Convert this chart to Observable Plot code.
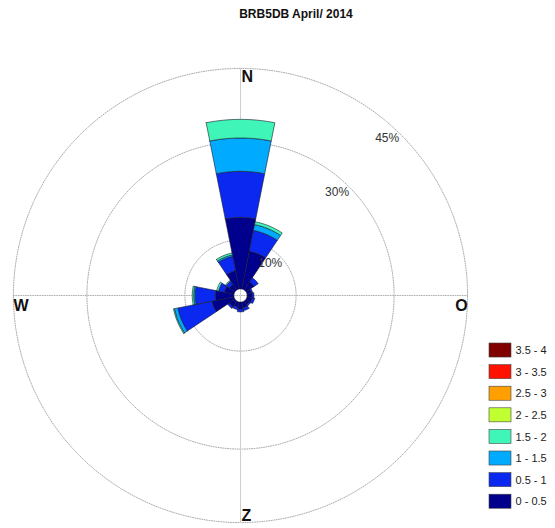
<!DOCTYPE html>
<html><head><meta charset="utf-8">
<script src="https://cdn.jsdelivr.net/npm/d3@7"></script>
<script src="https://cdn.jsdelivr.net/npm/@observablehq/plot@0.6"></script>
<style>
body{margin:0;background:#fff;font-family:"Liberation Sans",Arial,sans-serif;}
#wrap{position:relative;width:555px;height:528px;overflow:hidden;background:#fff;}
#chart,#legend{position:absolute;}
#chart{left:0;top:0;}
#legend{left:480px;top:336px;}
#title{position:absolute;top:7px;left:196px;width:200px;text-align:center;font-weight:bold;font-size:12px;color:#111;white-space:nowrap;}
</style></head><body>
<div id="wrap"><div id="chart"></div><div id="title"></div><div id="legend"></div></div>
<script>
// ---- data ----
const title = "BRB5DB April/ 2014";
const directions = ["N","NNE","NE","ENE","E","ESE","SE","SSE","S","SSW","SW","WSW","W","WNW","NW","NNW"];
const dirAngles = [0,22.5,45,67.5,90,112.5,135,157.5,180,202.5,225,247.5,270,292.5,315,337.5];
const bins = ["0 - 0.5","0.5 - 1","1 - 1.5","1.5 - 2","2 - 2.5","2.5 - 3","3 - 3.5","3.5 - 4"];
const binColors = ["#00008c","#0a28f0","#00aaff","#3ff5b8","#c0ff30","#ff9f00","#ff1200","#800000"];
// frequency (%) per direction, one array per speed bin
const f0_05  = [14.6,7.9,2.0,0.9,1.0,1.1,0.9,1.2,1.4,1.1,1.4,4.6,3.8,2.0,1.4,3.8];
const f05_1  = [9.4,4.3,1.0,0.3,0.4,0.5,0.3,0.6,0.6,0.5,0.4,7.1,4.1,1.2,0.8,3.0];
const f1_15  = [6.8,1.2,0.0,0.0,0.0,0.0,0.0,0.0,0.0,0.0,0.0,0.7,0.3,0.0,0.0,0.3];
const f15_2  = [3.8,0.6,0.0,0.0,0.0,0.0,0.0,0.0,0.0,0.0,0.0,0.2,0.3,0.4,0.2,0.4];
const f2_25  = [0,0,0,0,0,0,0,0,0,0,0,0,0,0,0,0];
const f25_3  = [0,0,0,0,0,0,0,0,0,0,0,0,0,0,0,0];
const f3_35  = [0,0,0,0,0,0,0,0,0,0,0,0,0,0,0,0];
const f35_4  = [0,0,0,0,0,0,0,0,0,0,0,0,0,0,0,0];
const series = [f0_05,f05_1,f1_15,f15_2,f2_25,f25_3,f3_35,f35_4];
const ringValues = [10,30,45];
const ringLabels = ["10%","30%","45%"];
const compass = ["N","O","Z","W"];

// ---- geometry ----
const W = 555, H = 528, cx = 240, cy = 295, ppu = 4.9, holePx = 6.6;
const hole = holePx / ppu;            // inner offset in % units
const R = v => hole + v;              // radial position of a frequency value
const rad = a => a * Math.PI / 180;
const pt = (r, a) => [r * Math.sin(rad(a)), r * Math.cos(rad(a))];
const half = 360 / directions.length / 2;
const maxR = R(d3.max(ringValues));

// wedges
const wedgeRows = [];
directions.forEach((d, i) => {
  let cum = 0;
  series.forEach((s, b) => {
    const v = s[i];
    if (v <= 0) return;
    const r0 = R(cum), r1 = R(cum + v);
    const id = d + "_" + b;
    const n = 16;
    const pts = [];
    for (let k = 0; k <= n; k++) pts.push(pt(r1, dirAngles[i] - half + (2 * half) * k / n));
    for (let k = n; k >= 0; k--) pts.push(pt(r0, dirAngles[i] - half + (2 * half) * k / n));
    pts.push(pts[0]);
    pts.forEach(([x, y]) => wedgeRows.push({id, bin: bins[b], x, y}));
    cum += v;
  });
});

// rings
const ringRows = [];
ringValues.forEach(v => {
  for (let k = 0; k <= 360; k += 2) { const [x, y] = pt(R(v), k); ringRows.push({ring: v, x, y}); }
});
const ringText = ringValues.map((v, i) => { const [x, y] = pt(R(v) - 12 / ppu, 43); return {x, y, t: ringLabels[i]}; });

const xDom = [(0 - cx) / ppu, (W - cx) / ppu];
const yDom = [(cy - H) / ppu, cy / ppu];

const chart = Plot.plot({
  width: W, height: H, margin: 0,
  x: {domain: xDom, axis: null},
  y: {domain: yDom, axis: null},
  color: {domain: bins, range: binColors},
  style: {fontFamily: "Liberation Sans, Arial, sans-serif", background: "transparent"},
  marks: [
    Plot.line(ringRows, {x: "x", y: "y", z: "ring", stroke: "#ababab", strokeWidth: 1, strokeDasharray: "1,1.4"}),
    Plot.line([[-maxR, 0], [maxR, 0]], {stroke: "#b4b4b4", strokeWidth: 1, strokeDasharray: "1,1.4"}),
    Plot.line([[0, -maxR], [0, maxR]], {stroke: "#cfcfcf", strokeWidth: 1}),
    Plot.line(wedgeRows, {x: "x", y: "y", z: "id", fill: "bin", stroke: "#1a1a2a", strokeWidth: 0.6, curve: "linear"}),
    Plot.text(ringText, {x: "x", y: "y", text: "t", fontSize: 12, fill: "#333"}),
    Plot.text([compass[0]], {x: 0, y: maxR, text: d => d, textAnchor: "start", lineAnchor: "top", dx: 1, dy: 2, fontSize: 16, fontWeight: "bold", fill: "#111"}),
    Plot.text([compass[2]], {x: 0, y: -maxR, text: d => d, textAnchor: "start", lineAnchor: "bottom", dx: 1, dy: -2, fontSize: 16, fontWeight: "bold", fill: "#111"}),
    Plot.text([compass[3]], {x: -maxR, y: 0, text: d => d, textAnchor: "start", lineAnchor: "top", dx: 0, dy: 4, fontSize: 16, fontWeight: "bold", fill: "#111"}),
    Plot.text([compass[1]], {x: maxR, y: 0, text: d => d, textAnchor: "end", lineAnchor: "top", dx: 0, dy: 4, fontSize: 16, fontWeight: "bold", fill: "#111"})
  ]
});
document.getElementById("chart").appendChild(chart);
document.getElementById("title").textContent = title;

// legend
const legendRows = bins.map((b, i) => ({bin: b, row: bins.length - 1 - i}));
const legend = Plot.plot({
  width: 75, height: 190, margin: 0,
  x: {domain: [0, 1], range: [9, 31], axis: null},
  y: {domain: [0, 8], range: [7, 7 + 8 * 21.6], axis: null},
  color: {domain: bins, range: binColors},
  style: {fontFamily: "Liberation Sans, Arial, sans-serif", background: "transparent"},
  marks: [
    Plot.rect(legendRows, {x1: 0, x2: 1, y1: "row", y2: d => d.row + 0.65, fill: "bin", stroke: "#444", strokeWidth: 0.6}),
    Plot.text(legendRows, {x: 1, y: d => d.row + 0.33, text: "bin", dx: 4, textAnchor: "start", fontSize: 11, fill: "#222"})
  ]
});
document.getElementById("legend").appendChild(legend);
</script>
</body></html>
